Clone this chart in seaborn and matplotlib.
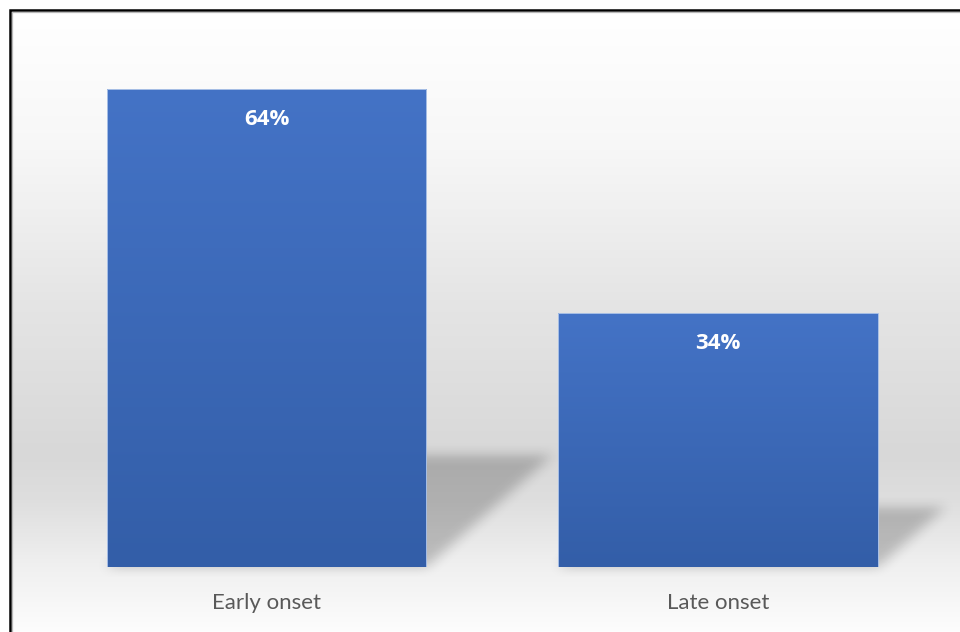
import numpy as np
import matplotlib
matplotlib.use("Agg")
import matplotlib.pyplot as plt
import seaborn as sns

# ---- data ----
categories = ["Early onset", "Late onset"]
values = [64, 34]
value_labels = ["64%", "34%"]

W, H = 960, 632
sns.set_theme(style="white")
plt.rcParams['font.family'] = ['Lato', 'DejaVu Sans']

fig = plt.figure(figsize=(9.6, 6.32), dpi=100)
fig.patch.set_facecolor("white")

# background axes in pixel coordinates (top-down)
bg = fig.add_axes([0, 0, 1, 1], zorder=0)
bg.set_xlim(0, W)
bg.set_ylim(H, 0)
bg.axis("off")

stops_y = [11, 150, 300, 455, 500, 567, 632]
stops_v = [255, 247, 229, 216, 222, 240, 253]
ys = np.linspace(11, H, 622)
col = np.interp(ys, stops_y, stops_v) / 255.0
grad = np.dstack([col[:, None]] * 3)
bg.imshow(grad, extent=(11, W, H, 11), aspect="auto", interpolation="bilinear", zorder=0)

# frame
bg.plot([10, 10, W + 5], [H + 5, 9.5, 9.5], color="black", lw=1.8,
        solid_joinstyle="miter", zorder=5)
bg.plot([11.8, 11.8, W + 5], [H + 5, 11.5, 11.5], color="#b8b8b8", lw=0.9, zorder=5)

# main axes
ax = fig.add_axes([40.75 / W, (H - 567) / H, 903 / W, 523 / H], zorder=1)
ax.patch.set_alpha(0)
sns.barplot(x=categories, y=values, ax=ax, width=0.708, color="#4472c4", saturation=1)
ax.set_xlim(-0.5, 1.5)
ax.set_ylim(0, 70)
for s in ax.spines.values():
    s.set_visible(False)
ax.set_yticks([])
ax.set_ylabel("")
ax.set_xlabel("")
ax.tick_params(axis="x", length=0, pad=19, labelsize=16, labelcolor="#595959")

# bar gradients
top_c = np.array([68, 115, 198]) / 255.0
bot_c = np.array([51, 94, 168]) / 255.0
t = np.linspace(0, 1, 256)[:, None]
bar_grad = (top_c[None, :] * (1 - t) + bot_c[None, :] * t)[:, None, :]

XX, YY = np.meshgrid(np.arange(W) + 0.5, np.arange(H) + 0.5)
mask = np.zeros((H, W))
for p in ax.patches:
    x0, x1 = p.get_x(), p.get_x() + p.get_width()
    h = p.get_height()
    im = ax.imshow(bar_grad, extent=(x0, x1, 0, h), aspect="auto", zorder=2,
                   interpolation="bilinear")
    im.set_clip_path(p)
    p.set_facecolor("none")
    p.set_edgecolor("#a9c0e6")
    p.set_linewidth(0.7)
    p.set_zorder(3)
    # shadow geometry in pixels
    (px0, pyb) = ax.transData.transform((x0, 0))
    (px1, pyt) = ax.transData.transform((x1, h))
    hp = pyt - pyb
    Yb = H - pyb
    dy = 0.235 * hp
    dx = 0.265 * hp
    u = Yb - YY
    shift = u * dx / dy
    inside = (u >= 0) & (u <= dy) & (XX >= px0 + shift) & (XX <= px1 + shift)
    mask = np.maximum(mask, inside.astype(float))

ax.set_xlim(-0.5, 1.5)
ax.set_ylim(0, 70)

def box_blur(a, k, axis):
    kern = np.ones(k) / k
    return np.apply_along_axis(lambda r: np.convolve(r, kern, mode="same"), axis, a)

for _ in range(2):
    mask = box_blur(mask, 13, 0)
    mask = box_blur(mask, 15, 1)

shadow = np.zeros((H, W, 4))
shadow[..., 3] = mask * 0.21
bg.imshow(shadow, extent=(0, W, H, 0), aspect="auto", zorder=1, interpolation="bilinear")
bg.set_xlim(0, W)
bg.set_ylim(H, 0)

# value labels
for i, (v, lab) in enumerate(zip(values, value_labels)):
    ax.annotate(lab, xy=(i, v), xytext=(0, -31 * 72 / 100), textcoords="offset points",
                ha="center", va="center", color="white", fontweight="bold",
                fontsize=16, family=["Open Sans", "DejaVu Sans"], zorder=4)

fig.savefig("out.png", dpi=100)
